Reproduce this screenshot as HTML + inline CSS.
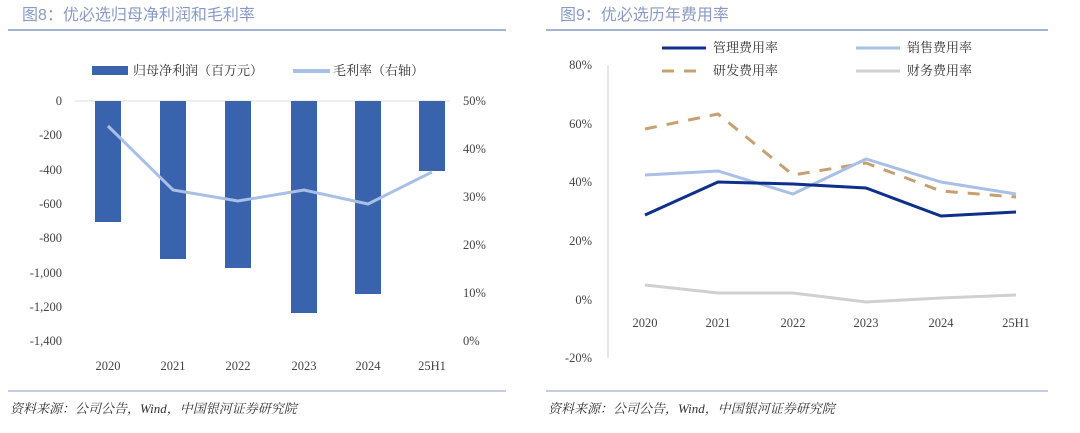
<!DOCTYPE html><html><head><meta charset="utf-8"><style>body{margin:0;background:#fff}svg text{font-family:"Liberation Serif","Noto Serif CJK SC",serif}svg text.t{font-family:"Liberation Sans","Noto Sans CJK SC",sans-serif}</style></head><body>
<svg width="1080" height="428" xmlns="http://www.w3.org/2000/svg">
<text class="t" x="22" y="20" font-size="16" fill="#8a9ac4">图8：优必选归母净利润和毛利率</text>
<text class="t" x="560" y="20" font-size="16" fill="#8a9ac4">图9：优必选历年费用率</text>
<line x1="8" y1="30" x2="506" y2="30" stroke="#8a9ac4" stroke-width="1.5"/>
<line x1="546" y1="30" x2="1048" y2="30" stroke="#8a9ac4" stroke-width="1.5"/>
<line x1="8" y1="391" x2="506" y2="391" stroke="#8a9ac4" stroke-width="1"/>
<line x1="546" y1="391" x2="1048" y2="391" stroke="#8a9ac4" stroke-width="1"/>
<text x="10" y="413" font-size="13" font-style="italic" fill="#333">资料来源：公司公告，Wind，中国银河证券研究院</text>
<text x="548" y="413" font-size="13" font-style="italic" fill="#333">资料来源：公司公告，Wind，中国银河证券研究院</text>
<rect x="92" y="66" width="36" height="9" fill="#3a63ad"/>
<text x="133" y="75" font-size="13" fill="#333">归母净利润（百万元）</text>
<line x1="293" y1="71" x2="330" y2="71" stroke="#a9bfe6" stroke-width="4"/>
<text x="333" y="75" font-size="13" fill="#333">毛利率（右轴）</text>
<line x1="75" y1="101" x2="450" y2="101" stroke="#ddd"/>
<g font-size="12.5" fill="#444" text-anchor="end">
<text x="62" y="105">0</text><text x="62" y="139">-200</text><text x="62" y="174">-400</text><text x="62" y="208">-600</text><text x="62" y="242">-800</text><text x="62" y="277">-1,000</text><text x="62" y="311">-1,200</text><text x="62" y="345">-1,400</text>
</g>
<g font-size="12.5" fill="#444">
<text x="463" y="105">50%</text><text x="463" y="153">40%</text><text x="463" y="201">30%</text><text x="463" y="249">20%</text><text x="463" y="297">10%</text><text x="463" y="345">0%</text>
</g>
<g fill="#3a63ad">
<rect x="95" y="101" width="26" height="121"/><rect x="160" y="101" width="26" height="158"/><rect x="225" y="101" width="26" height="167"/><rect x="291" y="101" width="26" height="212"/><rect x="355" y="101" width="26" height="193"/><rect x="419" y="101" width="26" height="70"/>
</g>
<polyline points="108,126 173,190 238,201 304,190 368,204 432,172" fill="none" stroke="#a9bfe6" stroke-width="3"/>
<g font-size="12.5" fill="#444" text-anchor="middle">
<text x="108" y="370">2020</text><text x="173" y="370">2021</text><text x="238" y="370">2022</text><text x="304" y="370">2023</text><text x="368" y="370">2024</text><text x="432" y="370">25H1</text>
</g>
<line x1="662" y1="48" x2="706" y2="48" stroke="#0e2f8a" stroke-width="3"/>
<text x="713" y="52" font-size="13" fill="#333">管理费用率</text>
<line x1="856" y1="48" x2="900" y2="48" stroke="#a9bfe6" stroke-width="3"/>
<text x="907" y="52" font-size="13" fill="#333">销售费用率</text>
<line x1="662" y1="71" x2="706" y2="71" stroke="#c4a072" stroke-width="3" stroke-dasharray="12,10"/>
<text x="713" y="75" font-size="13" fill="#333">研发费用率</text>
<line x1="856" y1="71" x2="900" y2="71" stroke="#d0d0d0" stroke-width="3"/>
<text x="907" y="75" font-size="13" fill="#333">财务费用率</text>
<line x1="608" y1="65" x2="608" y2="358" stroke="#ccc"/>
<g font-size="12.5" fill="#444" text-anchor="end">
<text x="592" y="69">80%</text><text x="592" y="128">60%</text><text x="592" y="186">40%</text><text x="592" y="245">20%</text><text x="592" y="304">0%</text><text x="592" y="362">-20%</text>
</g>
<g font-size="12.5" fill="#444" text-anchor="middle">
<text x="645" y="327">2020</text><text x="718" y="327">2021</text><text x="793" y="327">2022</text><text x="866" y="327">2023</text><text x="941" y="327">2024</text><text x="1016" y="327">25H1</text>
</g>
<polyline points="645,285 718,293 793,293 866,302 941,298 1016,295" fill="none" stroke="#d0d0d0" stroke-width="3"/>
<polyline points="645,129 718,114 793,175 866,163 941,191 1016,197" fill="none" stroke="#c4a072" stroke-width="3" stroke-dasharray="12,10"/>
<polyline points="645,175 718,171 793,194 866,159 941,182 1016,194" fill="none" stroke="#a9bfe6" stroke-width="3"/>
<polyline points="645,215 718,182 793,184 866,188 941,216 1016,212" fill="none" stroke="#0e2f8a" stroke-width="3"/>
</svg></body></html>
